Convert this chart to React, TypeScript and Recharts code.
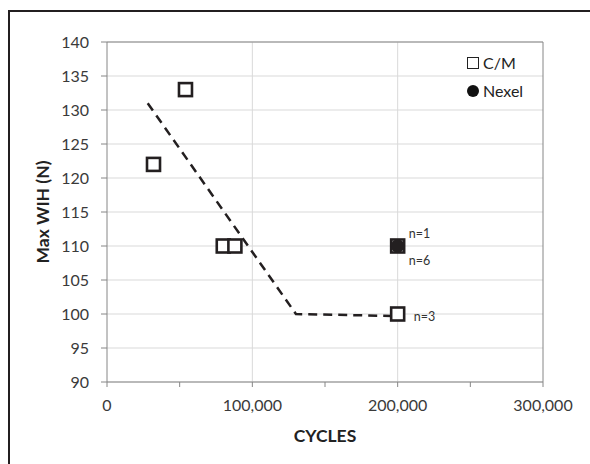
import {
  ScatterChart, Scatter, XAxis, YAxis, CartesianGrid, ReferenceLine,
} from "recharts";

const xTicks = [0, 50000, 100000, 150000, 200000, 250000, 300000];
const yTicks = [90, 95, 100, 105, 110, 115, 120, 125, 130, 135, 140];

const cmPoints = [
  { x: 32000, y: 122 },
  { x: 54000, y: 133 },
  { x: 80000, y: 110 },
  { x: 88000, y: 110 },
  { x: 200000, y: 110 },
  { x: 200000, y: 100 },
];

const nexelPoints = [{ x: 200000, y: 110 }];

const trendLine = [
  { x: 28000, y: 131 },
  { x: 130000, y: 100 },
  { x: 200000, y: 99.7 },
];

const notes = [
  { x: 200000, y: 110, label: "n=1" },
  { x: 200000, y: 110, label: "n=6" },
  { x: 200000, y: 100, label: "n=3" },
];

const legendItems = ["C/M", "Nexel"];

const FONT = "Lato, 'Open Sans', sans-serif";
const INK = "#231f20";
const TEXT = "#3a3a3a";

const noteOffset: Record<string, { dx: number; dy: number }> = {
  "n=1": { dx: 11, dy: -13 },
  "n=6": { dx: 11, dy: 14 },
  "n=3": { dx: 16, dy: 2 },
};

const SquareMark = (props: any) => {
  const { cx, cy } = props;
  return (
    <rect x={cx - 6.5} y={cy - 6.5} width={13} height={13}
      fill="#fff" stroke={INK} strokeWidth={2.6} />
  );
};

const DotMark = (props: any) => (
  <circle cx={props.cx} cy={props.cy} r={6.8} fill={INK} />
);

const NoteMark = (props: any) => {
  const { cx, cy, payload } = props;
  const o = noteOffset[payload.label];
  return (
    <text x={cx + o.dx} y={cy + o.dy} dominantBaseline="central"
      fontSize={12.5} fontFamily={FONT} fill="#333">
      {payload.label}
    </text>
  );
};

const LegendBox = () => (
  <div style={{ position: "absolute", left: 467, top: 49, fontFamily: FONT, fontSize: 16, color: "#222", lineHeight: "28px" }}>
    {legendItems.map((name, i) => (
      <div key={name} style={{ display: "flex", alignItems: "center" }}>
        {i === 0 ? (
          <span style={{ width: 10, height: 10, border: "1px solid #222", marginRight: 4 }} />
        ) : (
          <span style={{ width: 12, height: 12, borderRadius: 6, background: "#111", marginRight: 4 }} />
        )}
        {name}
      </div>
    ))}
  </div>
);

export default function App() {
  return (
    <div style={{ position: "fixed", left: 0, top: 0, width: 590, height: 464, overflow: "hidden", background: "#fff" }}>
      <div style={{ position: "absolute", left: 8, top: 10, width: 620, height: 500, border: `2px solid ${INK}` }} />
      <div style={{ position: "absolute", left: 0, top: 0 }}>
        <ScatterChart width={590} height={464} margin={{ top: 42, right: 47, left: 0, bottom: 0 }}>
          <CartesianGrid stroke="#d9d9d9" verticalValues={[100000, 200000]} />
          <XAxis
            type="number" dataKey="x" domain={[0, 300000]} ticks={xTicks}
            tickFormatter={(v: number) => (v % 100000 === 0 ? v.toLocaleString("en-US") : "")}
            height={82} tickSize={5} tickMargin={13}
            tick={{ fill: TEXT, fontSize: 16, fontFamily: FONT }}
            axisLine={{ stroke: "#868686" }} tickLine={{ stroke: "#868686" }}
            label={{ value: "CYCLES", position: "insideBottom", offset: 22, fill: "#222", fontSize: 17.5, fontWeight: 700, fontFamily: FONT }}
          />
          <YAxis
            type="number" dataKey="y" domain={[90, 140]} ticks={yTicks}
            width={107} tickSize={6} tickMargin={12}
            tick={{ fill: TEXT, fontSize: 16, fontFamily: FONT }}
            axisLine={{ stroke: "#868686" }} tickLine={{ stroke: "#868686" }}
            label={{ value: "Max WIH (N)", angle: -90, position: "insideLeft", offset: 43, fill: "#222", fontSize: 17.5, fontWeight: 700, fontFamily: FONT, style: { textAnchor: "middle" } }}
          />
          <ReferenceLine y={140} stroke="#868686" />
          <ReferenceLine x={300000} stroke="#868686" />
          <Scatter name="trend" data={trendLine} lineType="joint" legendType="none"
            line={{ stroke: INK, strokeWidth: 2.5, strokeDasharray: "9 6" }}
            shape={() => <g />} isAnimationActive={false} />
          <Scatter name="C/M" data={cmPoints} shape={SquareMark} isAnimationActive={false} />
          <Scatter name="Nexel" data={nexelPoints} shape={DotMark} isAnimationActive={false} />
          <Scatter name="notes" data={notes} shape={NoteMark} legendType="none" isAnimationActive={false} />
        </ScatterChart>
      </div>
      <LegendBox />
    </div>
  );
}
